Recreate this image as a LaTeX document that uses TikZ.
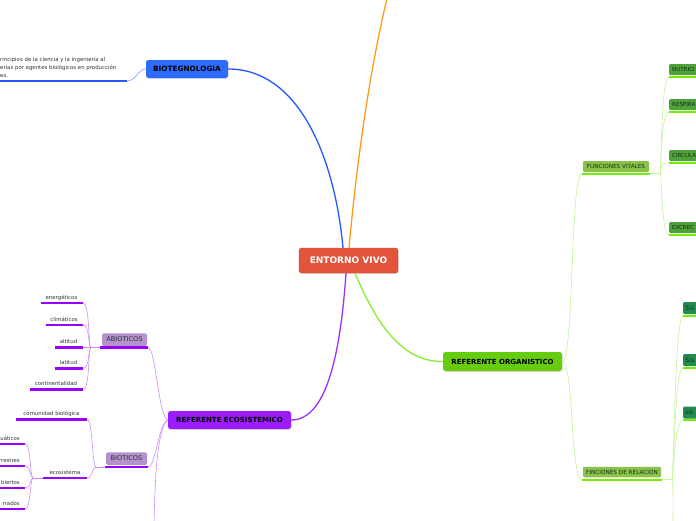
\documentclass[tikz,border=0pt]{standalone}
\usepackage{fontspec}
\setmainfont{DejaVu Sans}
\usetikzlibrary{shadows}
\definecolor{evred}{HTML}{E4543A}
\definecolor{evborder}{HTML}{C8452E}
\definecolor{bluebox}{HTML}{2D6CFF}
\definecolor{blueline}{HTML}{2457FF}
\definecolor{bluethin}{HTML}{7FA2FF}
\definecolor{orangeline}{HTML}{FF9A1A}
\definecolor{purplebox}{HTML}{9A1CFF}
\definecolor{purpleline}{HTML}{9B30FF}
\definecolor{purplethin}{HTML}{CC8CFF}
\definecolor{purpleul}{HTML}{9900FF}
\definecolor{lavbox}{HTML}{B392CE}
\definecolor{greenbox}{HTML}{66CC10}
\definecolor{greenline}{HTML}{88EE33}
\definecolor{greenthin}{HTML}{C6F596}
\definecolor{greenul}{HTML}{77EE00}
\definecolor{fvbox}{HTML}{8BC34A}
\definecolor{midgreen}{HTML}{4FA23A}
\definecolor{darkgreen}{HTML}{238B4F}
\definecolor{darktext}{HTML}{333333}
\definecolor{greentext}{HTML}{12301A}
\tikzset{
  mainbox/.style={rounded corners=2.5pt, inner sep=0pt, font=\bfseries\fontsize{7}{8}\selectfont,
    drop shadow={opacity=0.25, shadow xshift=0.6pt, shadow yshift=-0.8pt}},
  subbox/.style={rounded corners=1.5pt, inner sep=0pt, font=\fontsize{6.6}{7}\selectfont},
  smallbox/.style={rounded corners=1.2pt, inner sep=0pt, font=\fontsize{5.7}{6}\selectfont},
  edgebox/.style={rounded corners=1.2pt, anchor=west, inner xsep=3pt, inner ysep=0pt, text width=40pt, align=left, font=\fontsize{5.5}{6}\selectfont},
  leaf/.style={inner sep=0pt, font=\fontsize{5.4}{6}\selectfont, text=darktext, anchor=base},
  leafr/.style={inner sep=0pt, font=\fontsize{5.4}{6}\selectfont, text=darktext, anchor=base east},
  mainconn/.style={line width=1.3pt},
  thinconn/.style={line width=0.6pt},
  ul/.style={line width=2.2pt},
}
\begin{document}
\begin{tikzpicture}[x=1pt,y=-1pt]
\useasboundingbox (0,0) rectangle (696,520);
% ---------- central
\node[mainbox, fill=evred, draw=evborder, line width=0.3pt, text=white, minimum width=99pt, minimum height=25pt, font=\bfseries\fontsize{9}{10}\selectfont] (ev) at (348.5,260.5) {ENTORNO VIVO};
% ---------- orange branch (goes off the top)
\coordinate (orx) at (393,-25);
\draw[mainconn, orangeline] ([xshift=0.5pt]ev.north) .. controls (356,170) and (370,60) .. (orx);
% ---------- blue branch
\node[mainbox, fill=bluebox, minimum width=82pt, minimum height=18pt, font=\bfseries\fontsize{7.3}{8}\selectfont] (bt) at (187,69) {BIOTEGNOLOGIA};
\draw[mainconn, blueline] ([xshift=-5.5pt]ev.north) .. controls (335,160) and (300,69) .. (bt.east);
\node[inner sep=0pt, anchor=north west, align=left, text=darktext, font=\fontsize{5.4}{7.8}\selectfont] (btd) at (0,57) {rincipios de la ciencia y la ingeniería al\\erias por agentes biológicos en producción\\es.};
\coordinate (btuL) at (-5,81);
\coordinate (btuR) at (127,81);
\draw[ul, blueline, line width=2pt] (btuL) -- (btuR);
\draw[thinconn, bluethin] (bt.west) .. controls (138,69) and (136,81) .. (btuR);
% ---------- purple branch
\node[mainbox, fill=purplebox, minimum width=123pt, minimum height=18pt] (re) at (229.5,420) {REFERENTE ECOSISTEMICO};
\draw[mainconn, purpleline] ([xshift=-2.5pt]ev.south) .. controls (340,360) and (325,420) .. (re.east);
% ABIOTICOS
\node[subbox, fill=lavbox, text=darktext, minimum width=45pt, minimum height=12.5pt] (ab) at (124.5,339.5) {ABIOTICOS};
\coordinate (abL) at (100,347.5);
\coordinate (abR) at (148,347.5);
\coordinate (abB) at (91,347.5);
\draw[ul, purpleul] (abL) -- (abR);
\draw[thinconn, purplethin] (re.west) .. controls (158,416) and (156,347.5) .. (abR);
\draw[thinconn, purplethin] (abL) -- (abB);
% BIOTICOS
\node[subbox, fill=lavbox, text=darktext, minimum width=41pt, minimum height=12.5pt] (bi) at (126.5,458.5) {BIOTICOS};
\coordinate (biL) at (105,467);
\coordinate (biR) at (148,467);
\coordinate (biB) at (96,467);
\draw[ul, purpleul] (biL) -- (biR);
\draw[thinconn, purplethin] (re.west) .. controls (158,424) and (156,467) .. (biR);
\draw[thinconn, purplethin] (biL) -- (biB);
\coordinate (reD) at (154,525);
\draw[thinconn, purplethin] (re.west) .. controls (158,428) and (155,470) .. (reD);
% abioticos leaves
\node[leaf] (ener) at (61.5,299) {energéticos};
\node[leaf] (clim) at (64,321) {climáticos};
\node[leaf] (alt) at (68.5,343.5) {altitud};
\node[leaf] (lat) at (68.5,364.5) {latitud};
\node[leaf] (cont) at (56,385.5) {continentalidad};
\coordinate (enerL) at (41,303); \coordinate (enerR) at (83,303);
\coordinate (climL) at (46,325); \coordinate (climR) at (83,325);
\coordinate (altL) at (55,347.5); \coordinate (altR) at (83,347.5);
\coordinate (latL) at (55,368.5); \coordinate (latR) at (83,368.5);
\coordinate (contL) at (30,389.5); \coordinate (contR) at (83,389.5);
\foreach \n in {ener,clim,alt,lat,cont}{\draw[ul, purpleul] (\n L) -- (\n R);}
\draw[thinconn, purplethin] (abB) .. controls (88,347.5) and (90,303) .. (enerR);
\draw[thinconn, purplethin] (abB) .. controls (88,347.5) and (90,325) .. (climR);
\draw[thinconn, purplethin] (abB) -- (altR);
\draw[thinconn, purplethin] (abB) .. controls (88,347.5) and (90,368.5) .. (latR);
\draw[thinconn, purplethin] (abB) .. controls (88,347.5) and (90,389.5) .. (contR);
% bioticos leaves
\node[leaf] (com) at (51.5,415.5) {comunidad biológica};
\node[leaf] (eco) at (65,474) {ecosistema};
\coordinate (comL) at (16,419.5); \coordinate (comR) at (87,419.5);
\coordinate (ecoL) at (43,478); \coordinate (ecoR) at (87,478);
\coordinate (ecoB) at (33,478);
\draw[ul, purpleul] (comL) -- (comR);
\draw[ul, purpleul] (ecoL) -- (ecoR);
\draw[thinconn, purplethin] (biB) .. controls (92,467) and (93,419.5) .. (comR);
\draw[thinconn, purplethin] (biB) .. controls (92,467) and (93,478) .. (ecoR);
\draw[thinconn, purplethin] (ecoL) -- (ecoB);
% ecosistema leaves
\node[leafr] (acu) at (20,440) {uáticos};
\node[leafr] (ter) at (20,462) {rrestres};
\node[leafr] (abi) at (20,484) {biertos};
\node[leafr] (cer) at (20,505) {rrados};
\coordinate (acuL) at (-5,444); \coordinate (acuR) at (25,444);
\coordinate (terL) at (-5,466); \coordinate (terR) at (25,466);
\coordinate (abiL) at (-5,488); \coordinate (abiR) at (25,488);
\coordinate (cerL) at (-5,509); \coordinate (cerR) at (25,509);
\foreach \n in {acu,ter,abi,cer}{\draw[ul, purpleul] (\n L) -- (\n R);}
\foreach \n/\y in {acu/444,ter/466,abi/488,cer/509}{
  \draw[thinconn, purplethin] (ecoB) .. controls (30,478) and (31,\y) .. (\n R);}
% ---------- green branch
\node[mainbox, fill=greenbox, minimum width=119pt, minimum height=19pt] (ro) at (502.5,361.5) {REFERENTE ORGANISTICO};
\draw[mainconn, greenline] ([xshift=6.5pt]ev.south) .. controls (375,320) and (400,362) .. (ro.west);
% FUNCIONES VITALES
\node[smallbox, fill=fvbox, text=greentext, minimum width=66pt, minimum height=11pt] (fv) at (616,166.5) {FUNCIONES VITALES};
\coordinate (fvL) at (582,173.5);
\coordinate (fvR) at (650,173.5);
\coordinate (fvB) at (660,173.5);
\draw[thinconn, greenthin] (ro.east) .. controls (574,362) and (570,173.5) .. (fvL);
\draw[ul, greenul, line width=2pt] (fvL) -- (fvR);
\draw[thinconn, greenthin] (fvR) -- (fvB);
\node[edgebox, fill=midgreen, text=greentext, minimum height=11pt] (nut) at (669,69.5) {NUTRICI};
\node[edgebox, fill=midgreen, text=greentext, minimum height=11pt] (res) at (669,104.5) {RESPIRA};
\node[edgebox, fill=midgreen, text=greentext, minimum height=11pt] (cir) at (669,155.5) {CIRCULA};
\node[edgebox, fill=midgreen, text=greentext, minimum height=11pt] (exc) at (669,227.5) {EXCREC};
\foreach \n/\y in {nut/77,res/112,cir/163,exc/235}{
  \coordinate (\n L) at (669,\y);
  \coordinate (\n R) at (705,\y);
  \draw[ul, greenul, line width=2pt] (\n L) -- (\n R);
  \draw[thinconn, greenthin] (fvB) .. controls (661.5,165) and (661,\y) .. (\n L);}
% FINCIONES DE RELACION
\node[smallbox, fill=fvbox, text=greentext, minimum width=78pt, minimum height=10.5pt] (fr) at (622,472) {FINCIONES DE RELACION};
\coordinate (frL) at (582,479.5);
\coordinate (frR) at (662,479.5);
\coordinate (frB) at (672,479.5);
\draw[thinconn, greenthin] (ro.east) .. controls (574,362) and (570,479.5) .. (frL);
\draw[ul, greenul, line width=2pt] (frL) -- (frR);
\draw[thinconn, greenthin] (frR) -- (frB);
\node[edgebox, fill=darkgreen, text=greentext, minimum height=12pt, font=\fontsize{6.2}{7}\selectfont, inner xsep=2pt] (s1) at (683,308) {Sis};
\node[edgebox, fill=darkgreen, text=greentext, minimum height=12pt, font=\fontsize{6.2}{7}\selectfont, inner xsep=2pt] (s2) at (683,360) {Sis};
\node[edgebox, fill=darkgreen, text=greentext, minimum height=12pt, font=\fontsize{6.2}{7}\selectfont, inner xsep=2pt] (s3) at (683,412.5) {sis};
\foreach \n/\y in {s1/316,s2/368,s3/420}{
  \coordinate (\n L) at (683,\y);
  \coordinate (\n R) at (705,\y);
  \draw[ul, greenul, line width=2pt] (\n L) -- (\n R);
  \draw[thinconn, greenthin] (frB) .. controls (674,470) and (675,\y) .. (\n L);}
\coordinate (frD) at (673,525);
\draw[thinconn, greenthin] (frB) .. controls (673.5,490) and (673,500) .. (frD);
\end{tikzpicture}
\end{document}
